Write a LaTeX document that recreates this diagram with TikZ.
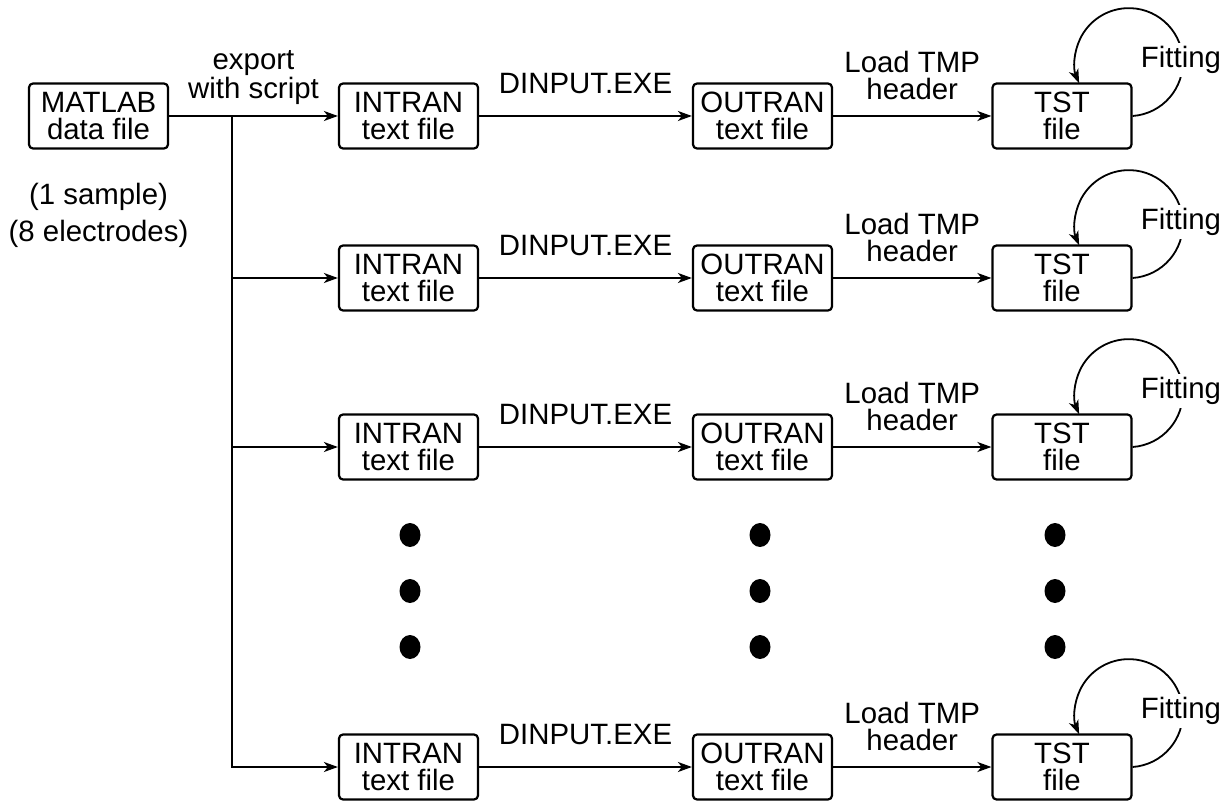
\documentclass[tikz,border=0pt]{standalone}
\usepackage{fontspec}
\setmainfont{Liberation Sans}
\usetikzlibrary{arrows.meta, shapes.geometric, calc}
\tikzstyle{filebox} = [
    rectangle,
    rounded corners = 2pt,
    minimum width = 69.5pt,
    minimum height = 32.5pt,
    inner sep = 0pt,
    align = center,
    line width = 1.1pt,
    draw = black
]
\tikzstyle{dot} = [
    ellipse,
    fill = black,
    minimum width = 10.5pt,
    minimum height = 12pt,
    inner sep = 0pt
]
\tikzstyle{flow} = [
    -{Stealth[length=7pt, width=5pt, inset=2pt]},
    line width = 0.9pt
]
\tikzstyle{steplabel} = [
    anchor = south,
    inner sep = 0pt,
    align = center
]

\begin{document}
\begin{tikzpicture}[x=0.5pt, y=-0.5pt, font=\fontsize{14.7}{13.5}\selectfont]
        \useasboundingbox (0,0) rectangle (1232,802);

        %% Source
        \node (matlab) [filebox] at (98.5,116) {MATLAB\\data file};
        \node (note) [align=center, inner sep=0pt, anchor=north] at (98.5,183) {(1 sample)\\[3.5pt](8 electrodes)};

        %% Rows
        \node (intran1) [filebox] at (408.5,116) {INTRAN\\text file};
        \node (outran1) [filebox] at (762.5,116) {OUTRAN\\text file};
        \node (tst1)    [filebox] at (1062,116)  {TST\\file};

        \node (intran2) [filebox] at (408.5,278) {INTRAN\\text file};
        \node (outran2) [filebox] at (762.5,278) {OUTRAN\\text file};
        \node (tst2)    [filebox] at (1062,278)  {TST\\file};

        \node (intran3) [filebox] at (408.5,447) {INTRAN\\text file};
        \node (outran3) [filebox] at (762.5,447) {OUTRAN\\text file};
        \node (tst3)    [filebox] at (1062,447)  {TST\\file};

        \node (intran4) [filebox] at (408.5,767) {INTRAN\\text file};
        \node (outran4) [filebox] at (762.5,767) {OUTRAN\\text file};
        \node (tst4)    [filebox] at (1062,767)  {TST\\file};

        %% Dots
        \node (dotia) [dot] at (410,535) {};
        \node (dotib) [dot] at (410,591) {};
        \node (dotic) [dot] at (410,647) {};
        \node (dotoa) [dot] at (760,535) {};
        \node (dotob) [dot] at (760,591) {};
        \node (dotoc) [dot] at (760,647) {};
        \node (dotta) [dot] at (1055,535) {};
        \node (dottb) [dot] at (1055,591) {};
        \node (dottc) [dot] at (1055,647) {};

        %% Export
        \draw[flow] (matlab) -- node[steplabel, yshift=5pt]{export\\with script} (intran1);
        \coordinate (split) at (232,116);
        \draw[flow] (split) |- (intran4);
        \draw[flow] (split |- intran2) -- (intran2);
        \draw[flow] (split |- intran3) -- (intran3);

        %% Conversion
        \draw[flow] (intran1) -- node[steplabel, yshift=10.5pt]{DINPUT.EXE} (outran1);
        \draw[flow] (intran2) -- node[steplabel, yshift=10.5pt]{DINPUT.EXE} (outran2);
        \draw[flow] (intran3) -- node[steplabel, yshift=10.5pt]{DINPUT.EXE} (outran3);
        \draw[flow] (intran4) -- node[steplabel, yshift=10.5pt]{DINPUT.EXE} (outran4);

        \draw[flow] (outran1) -- node[steplabel, yshift=7.5pt]{Load TMP\\header} (tst1);
        \draw[flow] (outran2) -- node[steplabel, yshift=7.5pt]{Load TMP\\header} (tst2);
        \draw[flow] (outran3) -- node[steplabel, yshift=7.5pt]{Load TMP\\header} (tst3);
        \draw[flow] (outran4) -- node[steplabel, yshift=7.5pt]{Load TMP\\header} (tst4);

        %% Fitting loops
        \draw[flow] (tst1.east) arc[start angle=-86, end angle=203, radius=27pt];
        \draw[flow] (tst2.east) arc[start angle=-86, end angle=203, radius=27pt];
        \draw[flow] (tst3.east) arc[start angle=-86, end angle=203, radius=27pt];
        \draw[flow] (tst4.east) arc[start angle=-86, end angle=203, radius=27pt];
        \node (fitting1) [fill=white, inner sep=1.5pt] at (1181,60)  {Fitting};
        \node (fitting2) [fill=white, inner sep=1.5pt] at (1181,222) {Fitting};
        \node (fitting3) [fill=white, inner sep=1.5pt] at (1181,391) {Fitting};
        \node (fitting4) [fill=white, inner sep=1.5pt] at (1181,711) {Fitting};

\end{tikzpicture}
\end{document}
